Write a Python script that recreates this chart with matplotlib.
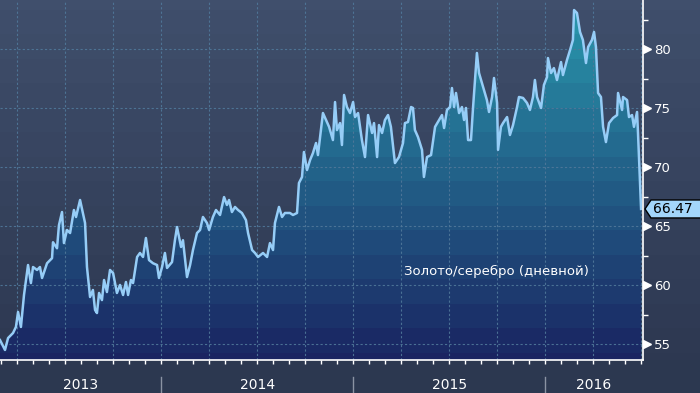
import numpy as np
import matplotlib
matplotlib.use("Agg")
import matplotlib.pyplot as plt
import matplotlib.transforms as mtransforms
from matplotlib.colors import to_rgb
from matplotlib.patches import Polygon

# ---------------- data (fractional year, gold/silver ratio) ----------------
dates = [
    2013.161, 2013.187, 2013.203, 2013.229, 2013.244, 2013.255, 2013.270, 2013.286, 2013.307, 2013.322,
    2013.333, 2013.354, 2013.369, 2013.380, 2013.406, 2013.432, 2013.437, 2013.458, 2013.468, 2013.484,
    2013.494, 2013.510, 2013.526, 2013.546, 2013.557, 2013.578, 2013.604, 2013.614, 2013.630, 2013.645,
    2013.656, 2013.666, 2013.677, 2013.692, 2013.703, 2013.718, 2013.734, 2013.750, 2013.770, 2013.786,
    2013.802, 2013.817, 2013.828, 2013.843, 2013.854, 2013.875, 2013.890, 2013.906, 2013.921, 2013.937,
    2013.958, 2013.979, 2013.989,
    2014.005, 2014.020, 2014.031, 2014.057, 2014.072, 2014.083, 2014.104, 2014.114, 2014.135, 2014.151,
    2014.166, 2014.187, 2014.203, 2014.218, 2014.239, 2014.250, 2014.270, 2014.286, 2014.307, 2014.328,
    2014.343, 2014.354, 2014.369, 2014.385, 2014.401, 2014.421, 2014.442, 2014.453, 2014.474, 2014.489,
    2014.505, 2014.531, 2014.552, 2014.567, 2014.583, 2014.593, 2014.614, 2014.630, 2014.645, 2014.671,
    2014.687, 2014.708, 2014.718, 2014.734, 2014.744, 2014.760, 2014.776, 2014.791, 2014.807, 2014.817,
    2014.828,
    2014.843, 2014.859, 2014.875, 2014.895, 2014.906, 2014.916, 2014.932, 2014.942, 2014.953, 2014.968,
    2014.984,
    2015.000, 2015.010, 2015.026, 2015.046, 2015.062, 2015.078, 2015.099, 2015.109, 2015.125, 2015.135,
    2015.151, 2015.166, 2015.182, 2015.197, 2015.218, 2015.239, 2015.260, 2015.270, 2015.286, 2015.302,
    2015.312, 2015.322, 2015.338, 2015.359, 2015.369, 2015.385, 2015.406, 2015.427, 2015.442, 2015.463,
    2015.474, 2015.489, 2015.505, 2015.515, 2015.526, 2015.536, 2015.552, 2015.567, 2015.578, 2015.588,
    2015.599, 2015.614, 2015.625, 2015.645, 2015.656, 2015.677, 2015.697, 2015.708, 2015.724, 2015.734,
    2015.750, 2015.755,
    2015.770, 2015.781, 2015.802, 2015.817, 2015.833, 2015.854, 2015.864, 2015.885, 2015.906, 2015.921,
    2015.937, 2015.947, 2015.958, 2015.979, 2015.994,
    2016.010, 2016.015, 2016.031, 2016.046, 2016.062, 2016.083, 2016.093, 2016.114, 2016.130, 2016.145,
    2016.151, 2016.166, 2016.182, 2016.197, 2016.213, 2016.224, 2016.244, 2016.255, 2016.265, 2016.276,
    2016.291, 2016.302, 2016.317, 2016.333, 2016.354, 2016.375, 2016.380, 2016.401, 2016.406, 2016.427,
    2016.437, 2016.453, 2016.463, 2016.479, 2016.484, 2016.500,
]
values = [
    55.36, 54.52, 55.53, 55.96, 56.47, 57.74, 56.47, 59.18, 61.72, 60.19,
    61.55, 61.30, 61.55, 60.62, 61.87, 62.30, 63.65, 63.14, 65.09, 66.21,
    63.58, 64.69, 64.43, 66.38, 65.79, 67.23, 65.28, 61.55, 59.01, 59.60,
    57.91, 57.65, 59.35, 58.75, 60.45, 59.43, 61.30, 61.04, 59.35, 60.03,
    59.18, 60.28, 59.18, 60.45, 60.19, 62.40, 62.74, 62.40, 64.01, 62.14,
    61.87, 61.72, 60.62,
    61.55, 62.74, 61.47, 61.97, 63.82, 64.94, 63.25, 63.82, 60.70, 61.72,
    62.99, 64.43, 64.69, 65.79, 65.28, 64.69, 65.79, 66.38, 65.96, 67.48,
    66.81, 67.23, 66.21, 66.64, 66.38, 66.13, 65.53, 64.43, 62.99, 62.74,
    62.40, 62.74, 62.40, 63.58, 62.99, 65.28, 66.64, 65.79, 66.13, 66.13,
    65.96, 66.13, 68.67, 69.18, 71.30, 69.77, 70.62, 71.21, 72.06, 71.04,
    72.57,
    74.60, 74.01, 73.43, 72.31, 75.53, 73.16, 73.75, 71.89, 76.13, 75.11,
    74.60,
    75.53, 74.26, 74.60, 72.31, 70.87, 74.43, 72.91, 73.75, 70.87, 73.58,
    72.91, 74.01, 74.43, 73.43, 70.36, 70.87, 72.06, 73.75, 73.84, 75.11,
    75.03, 73.16, 72.57, 71.48, 69.18, 70.87, 71.04, 73.43, 73.84, 74.43,
    73.33, 74.86, 75.11, 76.72, 75.11, 76.30, 74.60, 75.11, 74.01, 75.03,
    72.31, 72.31, 75.11, 79.69, 77.99, 76.81, 75.70, 74.69, 75.96, 77.57,
    75.45, 71.48,
    73.43, 73.75, 74.26, 72.74, 73.58, 75.11, 75.96, 75.88, 75.45, 74.86,
    75.96, 77.40, 75.96, 75.03, 76.98,
    77.65, 79.26, 77.99, 78.41, 77.40, 78.92, 77.82, 79.09, 79.94, 80.79,
    83.33, 83.08, 81.47, 80.79, 78.84, 80.19, 80.79, 81.47, 80.19, 76.30,
    75.96, 73.43, 72.14, 73.75, 74.18, 74.43, 76.30, 74.86, 75.96, 75.70,
    74.26, 74.43, 73.43, 74.69, 72.91, 66.47,
]
year_labels = ["2013", "2014", "2015", "2016"]
year_starts = [2013, 2014, 2015, 2016]
y_major = [55, 60, 65, 70, 75, 80]
y_minor = [57.5, 62.5, 67.5, 72.5, 77.5, 82.5]
series_label = "Золото/серебро (дневной)"
last_value = values[-1]

# ---------------- layout / style ----------------
W, H = 700, 393
XMIN, XMAX = 2013.161, 2016.51
YMIN, YMAX = 53.67, 84.18
FIG_BG = "#2c3850"
LINE = "#96cdf7"
GRID = "#50789a"

fig = plt.figure(figsize=(W / 100, H / 100), dpi=100, facecolor=FIG_BG)


def banded(top, bottom, nrows=360, band=24.5, offset=15.0):
    t = np.array(to_rgb(top))
    b = np.array(to_rgb(bottom))
    img = np.zeros((nrows, 1, 3))
    for r in range(nrows):
        k = np.floor((r + offset) / band)
        f = np.clip((k * band - offset + band / 2) / nrows, 0, 1)
        img[r, 0] = t * (1 - f) + b * f
    return img


# banded background for whole chart height
bg = fig.add_axes([0, 33 / H, 1, 360 / H])
bg.axis("off")
bg.imshow(banded("#404f6c", "#2d3851"), aspect="auto", extent=[0, 1, 0, 1],
          interpolation="nearest")
bg.set_xlim(0, 1)
bg.set_ylim(0, 1)

ax = fig.add_axes([0, 33 / H, 643 / W, 360 / H])
ax.set_facecolor("none")
ax.set_xlim(XMIN, XMAX)
ax.set_ylim(YMIN, YMAX)

# gradient fill under the line
verts = [(dates[0], YMIN)] + list(zip(dates, values)) + [(dates[-1], YMIN)]
clip = Polygon(verts, closed=True, facecolor="none", edgecolor="none",
               transform=ax.transData)
ax.add_patch(clip)
im = ax.imshow(banded("#2a9aae", "#1a2461"), aspect="auto",
               extent=[XMIN, XMAX, YMIN, YMAX], interpolation="nearest", zorder=1)
im.set_clip_path(clip)
ax.set_xlim(XMIN, XMAX)
ax.set_ylim(YMIN, YMAX)

# grid
quarters = np.arange(2013.25, 2016.51, 0.25)
months = np.arange(2013 + 2 / 12, 2016.51, 1 / 12)
ax.set_xticks(quarters)
ax.set_xticks(months, minor=True)
ax.set_yticks(y_major)
ax.set_yticks(y_minor, minor=True)
ax.grid(True, which="major", color=GRID, linestyle=(0, (2, 2)), linewidth=0.8,
        alpha=0.9, zorder=2)
ax.set_axisbelow(False)
for gl in ax.get_xgridlines() + ax.get_ygridlines():
    gl.set_zorder(2)

# line
ax.plot(dates, values, color=LINE, lw=1.8, zorder=3, solid_joinstyle="round")

# spines
for s in ["top", "left"]:
    ax.spines[s].set_visible(False)
for s in ["right", "bottom"]:
    ax.spines[s].set_color("white")
    ax.spines[s].set_linewidth(1.2)
    ax.spines[s].set_zorder(5)

ax.yaxis.tick_right()
ax.tick_params(axis="x", which="both", direction="out", length=3, width=1,
               color="white", labelbottom=False)
ax.tick_params(axis="y", which="major", length=0, pad=8, labelsize=9.5,
               labelcolor="white")
ax.tick_params(axis="y", which="minor", direction="out", length=3.5, width=1,
               color="white")
ax.set_yticklabels([str(v) for v in y_major])

# triangle tick markers on the right axis (base on the spine, tip to the label)
tri_tr = mtransforms.offset_copy(
    mtransforms.blended_transform_factory(ax.transAxes, ax.transData),
    fig=fig, x=4.0, y=0, units="dots")
ax.plot([1.0] * len(y_major), y_major, linestyle="none", marker=">",
        markersize=5.5, color="white", transform=tri_tr, clip_on=False, zorder=6)

# year labels and separators
ytxt = -(385 - 360) / 360
sep_tr = mtransforms.blended_transform_factory(ax.transData, ax.transAxes)
for lab, ys in zip(year_labels, year_starts):
    lo = max(ys, XMIN)
    hi = min(ys + 1, XMAX)
    ax.text((lo + hi) / 2, ytxt, lab, transform=sep_tr, ha="center", va="center",
            color="white", fontsize=10, clip_on=False)
    if ys > XMIN:
        ax.plot([ys, ys], [-17 / 360, -33 / 360], transform=sep_tr, color="#8a93a3",
                lw=1, clip_on=False)

# series label
ax.text(404 / 643, (360 - 271) / 360, series_label, transform=ax.transAxes,
        ha="left", va="center", color="white", fontsize=9.5, zorder=6)

# last-value callout
px, py = ax.transData.transform((XMAX, last_value))
hh = 9
callout = Polygon([(px + 2, py), (px + 8, py + hh), (W + 5, py + hh),
                   (W + 5, py - hh), (px + 8, py - hh)], closed=True,
                  facecolor="#a3d6fb", edgecolor="black", lw=1,
                  transform=mtransforms.IdentityTransform(), zorder=10)
fig.add_artist(callout)
fig.text((px + 10) / W, py / H, f"{last_value:.2f}", ha="left", va="center",
         color="black", fontsize=10, zorder=11)

fig.savefig("out.png", dpi=100, facecolor=FIG_BG)
